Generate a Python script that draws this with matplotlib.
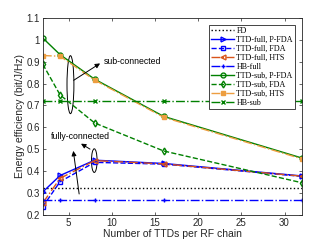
import matplotlib
matplotlib.use("Agg")
import matplotlib.pyplot as plt
from matplotlib.patches import Ellipse

x = [2, 4, 8, 16, 32]
fd = 0.325
ttd_full_pfda = [0.305, 0.380, 0.450, 0.435, 0.378]
ttd_full_fda = [0.238, 0.352, 0.440, 0.432, 0.376]
ttd_full_hts = [0.255, 0.367, 0.448, 0.433, 0.377]
hb_full = [0.268] * 5
ttd_sub_pfda = [1.008, 0.932, 0.820, 0.650, 0.460]
ttd_sub_fda = [0.888, 0.748, 0.620, 0.492, 0.347]
ttd_sub_hts = [0.928, 0.925, 0.816, 0.646, 0.456]
hb_sub = [0.722] * 5

blue = (0, 0, 1)
green = (0, 0.5, 0)
orange1 = (0.85, 0.33, 0.10)
orange2 = (0.93, 0.62, 0.25)

fig = plt.figure(figsize=(3.32, 2.42), dpi=100)
ax = fig.add_axes([0.129, 0.112, 0.78, 0.814])

lw = 1.0
ms = 3.5
ax.plot([2, 32], [fd, fd], ':', color='k', lw=lw, label='FD')
ax.plot(x, ttd_full_pfda, '-', color=blue, marker='>', ms=ms, mfc='none', lw=lw, label='TTD-full, P-FDA')
ax.plot(x, ttd_full_fda, '--', color=blue, marker='s', ms=ms, mfc='none', lw=lw, label='TTD-full, FDA')
ax.plot(x, ttd_full_hts, '-.', color=orange1, marker='<', ms=ms, mfc='none', lw=lw, label='TTD-full, HTS')
ax.plot(x, hb_full, '-.', color=blue, marker='+', ms=ms, lw=lw, label='HB-full')
ax.plot(x, ttd_sub_pfda, '-', color=green, marker='o', ms=ms, mfc='none', lw=lw, label='TTD-sub, P-FDA')
ax.plot(x, ttd_sub_fda, '--', color=green, marker='d', ms=ms, mfc='none', lw=lw, label='TTD-sub, FDA')
ax.plot(x, ttd_sub_hts, '-.', color=orange2, marker='s', ms=ms - 0.5, lw=lw, label='TTD-sub, HTS')
ax.plot(x, hb_sub, '-.', color=green, marker='x', ms=ms - 1, lw=lw, label='HB-sub')

ax.set_xlim(2, 32)
ax.set_ylim(0.2, 1.1)
ax.set_xticks([5, 10, 15, 20, 25, 30])
ax.set_yticks([0.2, 0.3, 0.4, 0.5, 0.6, 0.7, 0.8, 0.9, 1.0, 1.1])
ax.set_yticklabels(['0.2', '0.3', '0.4', '0.5', '0.6', '0.7', '0.8', '0.9', '1', '1.1'])
ax.tick_params(direction='in', top=True, right=True, length=2.5, width=0.5,
               labelsize=7, colors='#262626', pad=2)
for lab in ax.get_xticklabels() + ax.get_yticklabels():
    lab.set_family('Liberation Sans')
for s in ax.spines.values():
    s.set_linewidth(0.6)
    s.set_color('#262626')

ax.set_xlabel('Number of TTDs per RF chain', fontsize=7.5, family='Liberation Sans', color='#262626', labelpad=1)
ax.set_ylabel('Energy efficiency (bit/J/Hz)', fontsize=7.5, family='Liberation Sans', color='#262626', labelpad=1)

leg = ax.legend(loc='upper right', bbox_to_anchor=(0.975, 0.966), prop={'family': 'Liberation Serif', 'size': 5.8},
                handlelength=2.8, labelspacing=0.12, borderpad=0.3, handletextpad=0.3,
                fancybox=False, framealpha=1, edgecolor='#262626', borderaxespad=0)
leg.get_frame().set_linewidth(0.6)

# annotations
ax.add_patch(Ellipse((5.2, 0.795), 0.8, 0.265, fill=False, lw=0.7, ec='k'))
ax.annotate('', xy=(8.9, 0.899), xytext=(5.3, 0.808),
            arrowprops=dict(arrowstyle='-|>', lw=0.7, color='k', mutation_scale=7))
ax.text(9.1, 0.902, 'sub-connected', fontsize=6.3, family='Liberation Sans', va='center', ha='left')

ax.add_patch(Ellipse((7.96, 0.448), 0.65, 0.108, fill=False, lw=0.7, ec='k'))
ax.annotate('', xy=(5.49, 0.505), xytext=(6.25, 0.283),
            arrowprops=dict(arrowstyle='-|>', lw=0.7, color='k', mutation_scale=7))
ax.annotate('', xy=(6.15, 0.532), xytext=(7.74, 0.494),
            arrowprops=dict(arrowstyle='-|>', lw=0.7, color='k', mutation_scale=7))
ax.text(2.9, 0.556, 'fully-connected', fontsize=6.3, family='Liberation Sans', va='center', ha='left')

fig.savefig('out.png', dpi=100)
